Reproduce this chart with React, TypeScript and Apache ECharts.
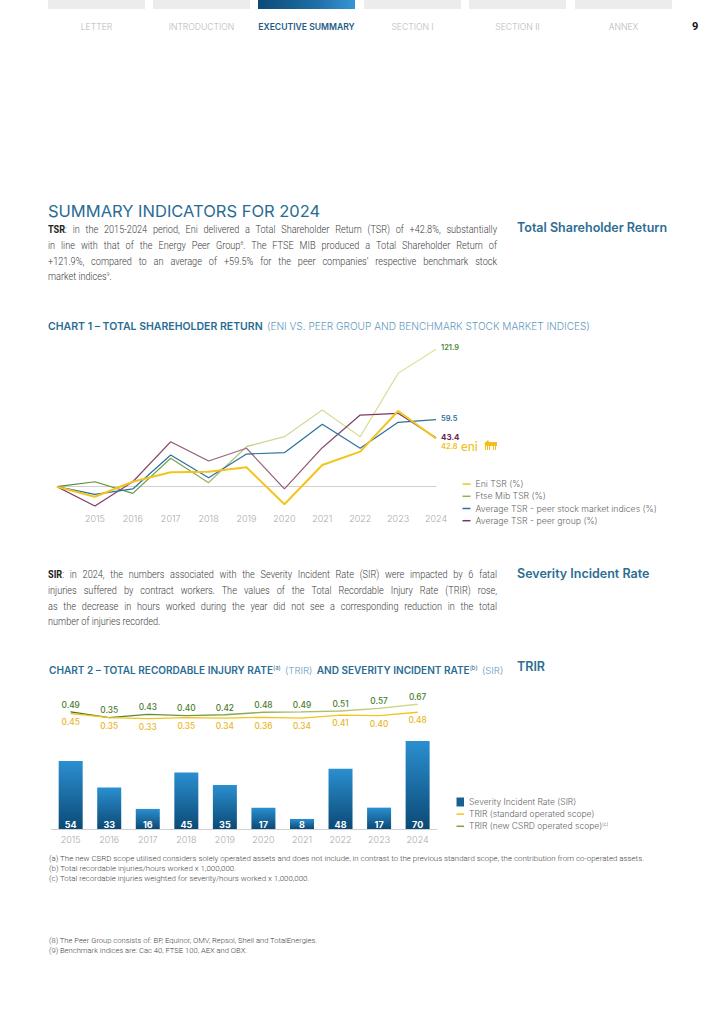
import React, { useEffect, useRef } from "react";
import * as echarts from "echarts";

// ---------- DATA ----------
const tsrYears = ["", "2015", "2016", "2017", "2018", "2019", "2020", "2021", "2022", "2023", "2024"];
const eniTsr = [0, -8.9, 4.4, 12.8, 13.2, 17.2, -15.6, 19.3, 31.1, 67.2, 42.8];
const ftseTsr = [0, 4.4, -5.9, 25.2, 3.6, 35.5, 44.4, 68.1, 44.4, 100.6, 121.9];
const peerIndexTsr = [0, -6.8, -2.0, 28.1, 8.0, 29.0, 30.2, 55.4, 34.1, 57.1, 59.5];
const peerGroupTsr = [0, -17.1, 4.4, 39.9, 22.8, 34.1, -2.0, 34.6, 63.6, 65.1, 43.4];
const tsrNames = [
  "Eni TSR (%)",
  "Ftse Mib TSR (%)",
  "Average TSR - peer stock market indices (%)",
  "Average TSR - peer group (%)",
];

const injuryYears = ["2015", "2016", "2017", "2018", "2019", "2020", "2021", "2022", "2023", "2024"];
const sirValues = [54, 33, 16, 45, 35, 17, 8, 48, 17, 70];
const trirStandard = [0.45, 0.35, 0.33, 0.35, 0.34, 0.36, 0.34, 0.41, 0.4, 0.48];
const trirCsrd = [0.49, 0.35, 0.43, 0.4, 0.42, 0.48, 0.49, 0.51, 0.57, 0.67];
const injuryNames = [
  "Severity Incident Rate (SIR)",
  "TRIR (standard operated scope)",
  "TRIR (new CSRD operated scope)",
];

const navItems = ["LETTER", "INTRODUCTION", "EXECUTIVE SUMMARY", "SECTION I", "SECTION II", "ANNEX"];

// ---------- STYLE ----------
const HEAD = "Inter, 'Open Sans', sans-serif";
const BODY = "Roboto, sans-serif";
const YELLOW = "#f3c41c";
const BLUE = "#2b70a0";
const PURPLE = "#7c3360";

let dogRegistered = false;
function registerDog() {
  if (dogRegistered) return;
  dogRegistered = true;
  echarts.graphic.registerShape(
    "enidog",
    echarts.graphic.extendPath(
      "M2 2 L4 0 L5 2 L13 2 L13 6 L12 6 L12 10 L11 10 L11 6 L10 6 L10 10 L9 10 L9 6 L6 6 L6 10 L5 10 L5 6 L4 6 L4 10 L3 10 L3 6 L2 6 L2 10 L1 10 L1 4 L0 3 Z",
      {}
    )
  );
}

function titleRich(b: number, l: number) {
  return {
    b: { fontSize: b, fontWeight: 600, color: "#2a6c93", fontFamily: HEAD },
    l: { fontSize: l, fontWeight: 300, color: "#5f98bd", fontFamily: HEAD },
    s: { fontSize: 6, fontWeight: 400, color: "#2a6c93", fontFamily: HEAD, padding: [0, 0, 5, 0] },
  };
}

function buildOption() {
  const hGrad = (stops: [number, string][]) =>
    new echarts.graphic.LinearGradient(0, 0, 1, 0, stops.map(([offset, color]) => ({ offset, color })));
  const barGrad = new echarts.graphic.LinearGradient(0, 0, 0, 1, [
    { offset: 0, color: "#2b8fd0" },
    { offset: 1, color: "#0b4a76" },
  ]);
  const axisLine = { show: true, lineStyle: { color: "#c4c4c4", width: 0.8 } };
  const xLabel = { color: "#a9a9a9", fontSize: 9, fontFamily: HEAD, fontWeight: 300 };
  const legendText = { fontSize: 8.7, color: "#666", fontFamily: HEAD, fontWeight: 300, lineHeight: 12.2 };

  return {
    animation: false,
    textStyle: { fontFamily: HEAD },
    title: [
      {
        left: 48,
        top: 317,
        padding: 0,
        text:
          "{b|CHART 1 – TOTAL SHAREHOLDER RETURN} {l|(ENI VS. PEER GROUP AND BENCHMARK STOCK MARKET INDICES)}",
        textStyle: { rich: titleRich(10.5, 10.1) },
      },
      {
        left: 49,
        top: 661,
        padding: 0,
        text:
          "{b|CHART 2 – TOTAL RECORDABLE INJURY RATE}{s|(a)} {l|(TRIR)} {b|AND SEVERITY INCIDENT RATE}{s|(b)} {l|(SIR)}",
        textStyle: { rich: titleRich(10.05, 9.6) },
      },
    ],
    legend: [
      {
        left: 462.5,
        top: 478,
        padding: 0,
        orient: "vertical",
        icon: "rect",
        itemWidth: 8,
        itemHeight: 1.5,
        itemGap: 0,
        selectedMode: false,
        textStyle: legendText,
        data: [
          { name: tsrNames[0], itemStyle: { color: YELLOW } },
          { name: tsrNames[1], itemStyle: { color: "#8db34f" } },
          { name: tsrNames[2], itemStyle: { color: BLUE } },
          { name: tsrNames[3], itemStyle: { color: PURPLE } },
        ],
      },
      {
        left: 456.5,
        top: 796.5,
        padding: 0,
        icon: "rect",
        itemWidth: 7.5,
        itemHeight: 9,
        selectedMode: false,
        textStyle: { ...legendText, fontSize: 8.5, lineHeight: 11 },
        data: [{ name: injuryNames[0], itemStyle: { color: "#1a5f90" } }],
      },
      {
        left: 456.5,
        top: 808,
        padding: 0,
        orient: "vertical",
        icon: "rect",
        itemWidth: 7.5,
        itemHeight: 1.5,
        itemGap: 0,
        selectedMode: false,
        textStyle: {
          ...legendText,
          fontSize: 8.5,
          rich: {
            n: { fontSize: 8.5, color: "#666", fontFamily: HEAD, fontWeight: 300 },
            s: { fontSize: 5, color: "#666", fontFamily: HEAD, padding: [0, 0, 4, 0] },
          },
        },
        formatter: (name: string) => (name === injuryNames[2] ? `{n|${name}}{s|(c)}` : name),
        data: [
          { name: injuryNames[1], itemStyle: { color: YELLOW } },
          { name: injuryNames[2], itemStyle: { color: "#7da046" } },
        ],
      },
    ],
    grid: [
      { left: 57, width: 379, top: 340.2, height: 169.05 },
      { left: 51.4, width: 385.5, top: 703.3, height: 125.7 },
      { left: 51.4, width: 385.5, top: 690.4, height: 42 },
    ],
    xAxis: [
      {
        gridIndex: 0,
        type: "category",
        data: tsrYears,
        boundaryGap: false,
        axisLine,
        axisTick: { show: false },
        axisLabel: { ...xLabel, margin: 5, interval: 0 },
      },
      {
        gridIndex: 1,
        type: "category",
        data: injuryYears,
        axisLine,
        axisTick: { show: false },
        axisLabel: { ...xLabel, margin: 6, interval: 0 },
      },
      { gridIndex: 2, type: "category", data: injuryYears, show: false },
    ],
    yAxis: [
      { gridIndex: 0, type: "value", min: -20, max: 130, show: false },
      { gridIndex: 1, type: "value", min: 0, max: 100, show: false },
      { gridIndex: 2, type: "value", min: 0, max: 1, show: false },
    ],
    series: [
      {
        name: tsrNames[1],
        type: "line",
        xAxisIndex: 0,
        yAxisIndex: 0,
        data: ftseTsr,
        symbol: "none",
        z: 2,
        lineStyle: {
          width: 1.2,
          color: hGrad([
            [0, "#4f8a33"],
            [0.35, "#7ea44a"],
            [0.55, "#cfd792"],
            [1, "#e2e29e"],
          ]),
        },
        endLabel: {
          show: true,
          formatter: "{c}",
          distance: 5,
          offset: [0, -1.5],
          color: "#4f8a3a",
          fontSize: 7.5,
          fontWeight: 600,
          fontFamily: HEAD,
        },
      },
      {
        name: tsrNames[3],
        type: "line",
        xAxisIndex: 0,
        yAxisIndex: 0,
        data: peerGroupTsr,
        symbol: "none",
        z: 3,
        lineStyle: {
          width: 1.2,
          color: hGrad([
            [0, "#7a2d5c"],
            [0.5, "#9b6a80"],
            [0.8, "#7f3a63"],
            [1, "#7a2d5c"],
          ]),
        },
        endLabel: {
          show: true,
          formatter: "{c}",
          distance: 5,
          offset: [0, -1],
          color: "#6a2450",
          fontSize: 8,
          fontWeight: 700,
          fontFamily: HEAD,
        },
      },
      {
        name: tsrNames[2],
        type: "line",
        xAxisIndex: 0,
        yAxisIndex: 0,
        data: peerIndexTsr,
        symbol: "none",
        z: 4,
        lineStyle: { width: 1.2, color: BLUE },
        endLabel: {
          show: true,
          formatter: "{c}",
          distance: 5,
          offset: [0, -1],
          color: "#2b6d9c",
          fontSize: 7.5,
          fontWeight: 600,
          fontFamily: HEAD,
        },
      },
      {
        name: tsrNames[0],
        type: "line",
        xAxisIndex: 0,
        yAxisIndex: 0,
        data: eniTsr,
        symbol: "none",
        z: 5,
        lineStyle: { width: 2, color: YELLOW },
        endLabel: {
          show: true,
          formatter: "{v|{c}} {e|eni}",
          distance: 5,
          offset: [0, 8],
          rich: {
            v: { color: "#f0bf1c", fontSize: 7.5, fontWeight: 600, fontFamily: HEAD },
            e: { color: "#f0bf1c", fontSize: 12.5, fontWeight: 500, fontFamily: "Lato, " + HEAD },
          },
        },
      },
      {
        name: injuryNames[0],
        type: "bar",
        xAxisIndex: 1,
        yAxisIndex: 1,
        data: sirValues,
        barWidth: 24,
        itemStyle: { color: barGrad },
        label: {
          show: true,
          position: "insideBottom",
          distance: 0,
          color: "#ffffff",
          fontSize: 9,
          fontWeight: 700,
          lineHeight: 10,
          fontFamily: HEAD,
        },
      },
      {
        name: injuryNames[1],
        type: "line",
        xAxisIndex: 2,
        yAxisIndex: 2,
        data: trirStandard,
        symbol: "circle",
        symbolSize: 0.5,
        showSymbol: true,
        z: 5,
        itemStyle: { color: YELLOW },
        lineStyle: { width: 1.3, color: YELLOW },
        label: {
          show: true,
          position: "bottom",
          distance: 4,
          color: "#eab51e",
          fontSize: 8.3,
          fontWeight: 500,
          fontFamily: HEAD,
          formatter: (p: any) => Number(p.value).toFixed(2),
        },
      },
      {
        name: injuryNames[2],
        type: "line",
        xAxisIndex: 2,
        yAxisIndex: 2,
        data: trirCsrd,
        symbol: "circle",
        symbolSize: 0.5,
        showSymbol: true,
        z: 4,
        itemStyle: { color: "#7da046" },
        lineStyle: {
          width: 1.3,
          color: hGrad([
            [0, "#3f7326"],
            [0.4, "#7aa148"],
            [1, "#d4db8c"],
          ]),
        },
        label: {
          show: true,
          position: "top",
          distance: 3,
          color: "#4a7a2c",
          fontSize: 8.3,
          fontWeight: 500,
          fontFamily: HEAD,
          formatter: (p: any) => Number(p.value).toFixed(2),
        },
      },
    ],
    graphic: [
      {
        type: "enidog",
        x: 484,
        y: 440,
        scaleX: 1,
        scaleY: 1,
        style: { fill: "#f0bf1c" },
      },
    ],
  };
}

// ---------- HTML TEXT ----------
type Lines = React.ReactNode[];

const tsrLines: Lines = [
  <>
    <b style={{ fontWeight: 700, color: "#222" }}>TSR</b>: in the 2015-2024 period, Eni delivered a Total Shareholder Return (TSR) of +42.8%, substantially
  </>,
  <>
    in line with that of the Energy Peer Group<sup style={{ fontSize: "55%", lineHeight: 0 }}>8</sup>. The FTSE MIB produced a Total Shareholder Return of
  </>,
  <>+121.9%, compared to an average of +59.5% for the peer companies’ respective benchmark stock</>,
  <>
    market indices<sup style={{ fontSize: "55%", lineHeight: 0 }}>9</sup>.
  </>,
];

const sirLines: Lines = [
  <>
    <b style={{ fontWeight: 700, color: "#222" }}>SIR</b>: in 2024, the numbers associated with the Severity Incident Rate (SIR) were impacted by 6 fatal
  </>,
  <>injuries suffered by contract workers. The values of the Total Recordable Injury Rate (TRIR) rose,</>,
  <>as the decrease in hours worked during the year did not see a corresponding reduction in the total</>,
  <>number of injuries recorded.</>,
];

const chartNotes = [
  "(a) The new CSRD scope utilised considers solely operated assets and does not include, in contrast to the previous standard scope, the contribution from co-operated assets.",
  "(b) Total recordable injuries/hours worked x 1,000,000.",
  "(c) Total recordable injuries weighted for severity/hours worked x 1,000,000.",
];
const pageNotes = [
  "(8) The Peer Group consists of: BP, Equinor, OMV, Repsol, Shell and TotalEnergies.",
  "(9) Benchmark indices are: Cac 40, FTSE 100, AEX and OBX.",
];

const SCALE = 0.88;
function Paragraph({ lines, top }: { lines: Lines; top: number }) {
  const lh = 15.7;
  return (
    <div
      style={{
        position: "absolute",
        left: 48,
        top: top - lh / 2,
        width: 449 / SCALE,
        transform: `scaleX(${SCALE})`,
        transformOrigin: "0 0",
        fontFamily: BODY,
        fontWeight: 300,
        fontSize: 10.4,
        color: "#3a3a3a",
      }}
    >
      {lines.map((l, i) => (
        <div
          key={i}
          style={{
            height: lh,
            lineHeight: `${lh}px`,
            textAlign: "justify",
            textAlignLast: i === lines.length - 1 ? "left" : "justify",
          }}
        >
          {l}
        </div>
      ))}
    </div>
  );
}

function Notes({ notes, top, gap, size }: { notes: string[]; top: number; gap: number; size: number }) {
  return (
    <div style={{ position: "absolute", left: 49, top: top - gap / 2, fontFamily: BODY, fontWeight: 300, fontSize: size, color: "#444" }}>
      {notes.map((n, i) => (
        <div key={i} style={{ height: gap, lineHeight: `${gap}px`, whiteSpace: "nowrap" }}>
          {n}
        </div>
      ))}
    </div>
  );
}

const tabLefts = [48, 153, 258, 364, 469, 575];

export default function App() {
  const ref = useRef<HTMLDivElement>(null);
  useEffect(() => {
    registerDog();
    if (!ref.current) return;
    const chart = echarts.init(ref.current, null, { renderer: "svg", width: 720, height: 1018 });
    chart.setOption(buildOption() as any);
    return () => chart.dispose();
  }, []);

  const sideHead = (text: string, top: number) => (
    <div
      style={{
        position: "absolute",
        left: 517,
        top: top - 8,
        height: 16,
        lineHeight: "16px",
        fontFamily: HEAD,
        fontWeight: 600,
        fontSize: 12.5,
        color: "#2d6d94",
        whiteSpace: "nowrap",
      }}
    >
      {text}
    </div>
  );

  return (
    <div style={{ position: "absolute", left: 0, top: 0, width: 720, height: 1018, background: "#fff", overflow: "hidden" }}>
      <div ref={ref} style={{ position: "absolute", left: 0, top: 0, width: 720, height: 1018 }} />
      {/* nav */}
      {navItems.map((t, i) => {
        const active = i === 2;
        return (
          <React.Fragment key={t}>
            <div
              style={{
                position: "absolute",
                left: tabLefts[i],
                top: 0,
                width: 97,
                height: 9,
                background: active ? "linear-gradient(90deg, #0b4a78, #1f6ea6 60%, #3596d6)" : "#ececec",
              }}
            />
            <div
              style={{
                position: "absolute",
                left: tabLefts[i],
                width: 97,
                top: 21,
                height: 12,
                lineHeight: "12px",
                textAlign: "center",
                fontFamily: HEAD,
                fontSize: 8.6,
                fontWeight: active ? 600 : 300,
                color: active ? "#1d5b86" : "#b8b8b8",
                whiteSpace: "nowrap",
              }}
            >
              {t}
            </div>
          </React.Fragment>
        );
      })}
      <div
        style={{
          position: "absolute",
          left: 692,
          top: 20,
          height: 14,
          lineHeight: "14px",
          fontFamily: "'Roboto', sans-serif",
          fontWeight: 700,
          fontSize: 11,
          color: "#111",
        }}
      >
        9
      </div>
      {/* heading */}
      <div
        style={{
          position: "absolute",
          left: 48,
          top: 201,
          height: 20,
          lineHeight: "20px",
          fontFamily: HEAD,
          fontWeight: 400,
          fontSize: 16.5,
          color: "#2a6b94",
          whiteSpace: "nowrap",
        }}
      >
        SUMMARY INDICATORS FOR 2024
      </div>
      {sideHead("Total Shareholder Return", 228)}
      <Paragraph lines={tsrLines} top={230} />
      {sideHead("Severity Incident Rate", 574)}
      <Paragraph lines={sirLines} top={575} />
      {sideHead("TRIR", 667)}
      <Notes notes={chartNotes} top={859} gap={9.8} size={7.9} />
      <Notes notes={pageNotes} top={941} gap={10} size={7.6} />
    </div>
  );
}
